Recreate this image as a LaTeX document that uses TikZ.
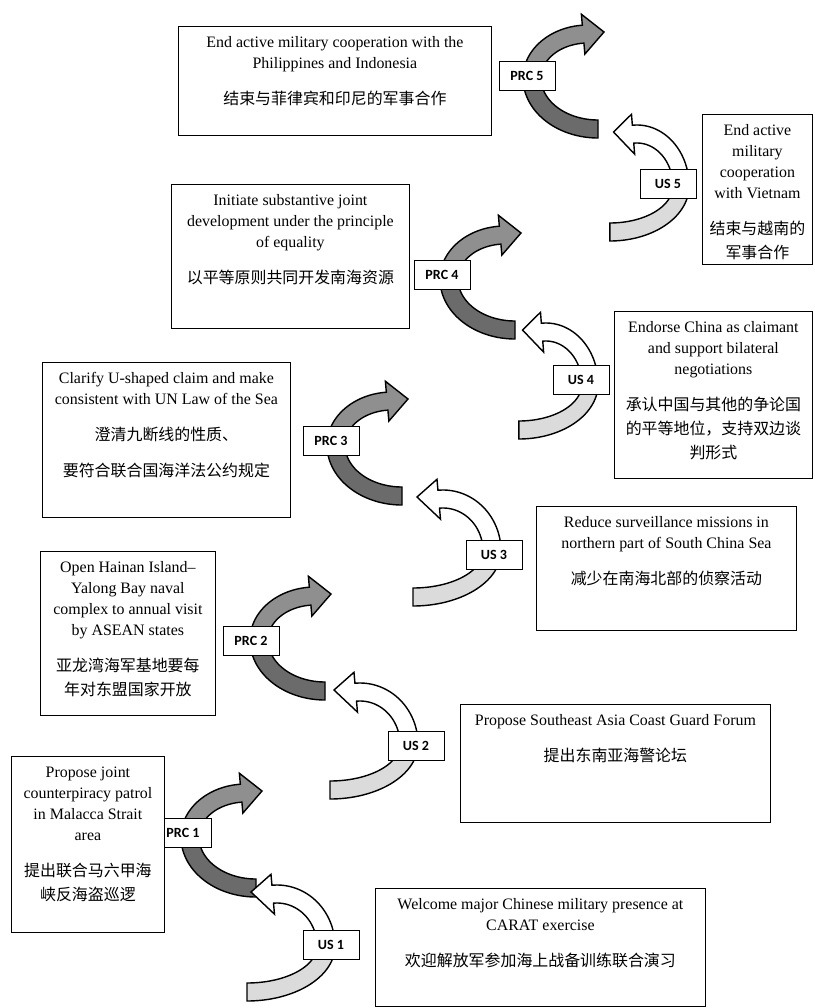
\documentclass[tikz,border=0pt]{standalone}
\usepackage{fontspec}
\setmainfont{Liberation Serif}
\newfontfamily\cjk{Noto Sans CJK SC}
\newfontfamily\tagfont{Carlito}
\usepackage{xcolor}
\usepackage{tikz}

\definecolor{prcdark}{gray}{0.42}
\definecolor{prcmid}{gray}{0.56}
\definecolor{uslight}{gray}{0.86}

\newlength{\unitpx}
\setlength{\unitpx}{0.03cm}
\def\bw{9}
\def\hw{20}

% text of a box: width, height (px), lines
\newcommand{\boxtext}[3]{\parbox[t][#2\unitpx][t]{#1\unitpx}{\centering\fontsize{13.6pt}{17.9pt}\selectfont\rule{0pt}{18pt}#3}}

% band between two angles: fill, centre x, rx, ry, from, to
\newcommand{\bandpart}[6]{%
  \filldraw[band, fill=#1]
    plot[variable=\t, domain=#5:#6, samples=40] ({#2+(#3+\bw)*cos(\t)}, {(#4+\bw)*sin(\t)})
    -- plot[variable=\t, domain=#6:#5, samples=40] ({#2+(#3-\bw)*cos(\t)}, {(#4-\bw)*sin(\t)})
    -- cycle;}
% band ending in a head: fill, centre x, rx, ry, from, to, tip x, tip y
\newcommand{\headpart}[8]{%
  \filldraw[band, fill=#1]
    plot[variable=\t, domain=#5:#6, samples=40] ({#2+(#3+\bw)*cos(\t)}, {(#4+\bw)*sin(\t)})
    -- ({#2+(#3+\hw)*cos(#6)}, {(#4+\hw)*sin(#6)})
    -- (#7,#8)
    -- ({#2+(#3-\hw)*cos(#6)}, {(#4-\hw)*sin(#6)})
    -- plot[variable=\t, domain=#6:#5, samples=40] ({#2+(#3-\bw)*cos(\t)}, {(#4-\bw)*sin(\t)})
    -- cycle;}
% PRC bend: opens to the right
\newcommand{\prcbend}[1]{%
  \begin{scope}[shift={(#1)}]
    \bandpart{prcdark}{66}{66}{51}{180}{90}
    \headpart{prcmid}{56}{56}{44}{180}{265}{72}{-46}
  \end{scope}}
% US bend: opens to the left
\newcommand{\usbend}[2]{%
  \begin{scope}[shift={(#1)}, xscale=#2]
    \bandpart{uslight}{-79}{79}{46}{0}{90}
    \headpart{white}{-49}{49}{52}{0}{-95}{-75}{-54}
  \end{scope}}

\begin{document}
\begin{tikzpicture}[x=0.03cm, y=-0.03cm,
    textbox/.style={draw, fill=white, line width=0.7pt, inner sep=0pt, anchor=north west},
    tag/.style={draw, fill=white, line width=0.8pt, inner sep=0pt, minimum width=1.68cm, minimum height=0.87cm, font=\tagfont\bfseries\fontsize{12pt}{14pt}\selectfont},
    band/.style={draw=black, line width=1.2pt, line join=miter}]
  \useasboundingbox (0,0) rectangle (815,1008);

  % middle of each bend
  \coordinate (prc1bend) at (190,837);
  \coordinate (us1bend) at (326,946);
  \coordinate (prc2bend) at (259,640);
  \coordinate (us2bend) at (409,744);
  \coordinate (prc3bend) at (336,445);
  \coordinate (us3bend) at (492,551);
  \coordinate (prc4bend) at (449,279);
  \coordinate (us4bend) at (590,384);
  \coordinate (prc5bend) at (532,78);
  \coordinate (us5bend) at (681,186);

  % the bends
  \prcbend{prc1bend}
  \usbend{us1bend}{1}
  \prcbend{prc2bend}
  \usbend{us2bend}{1}
  \prcbend{prc3bend}
  \usbend{us3bend}{1}
  \prcbend{prc4bend}
  \usbend{us4bend}{0.9}
  \prcbend{prc5bend}
  \usbend{us5bend}{0.9}

  % move labels
  \node[tag] (prc1) at (183,833) {PRC 1};
  \node[tag] (us1) at (331,945) {US 1};
  \node[tag] (prc2) at (251,641) {PRC 2};
  \node[tag] (us2) at (416,746) {US 2};
  \node[tag] (prc3) at (331,441) {PRC 3};
  \node[tag] (us3) at (494,555) {US 3};
  \node[tag] (prc4) at (442,275) {PRC 4};
  \node[tag] (us4) at (581,380) {US 4};
  \node[tag] (prc5) at (527,76) {PRC 5};
  \node[tag] (us5) at (668,184) {US 5};

  % PRC moves
  \node[textbox] (prc5box) at (178,26) {\boxtext{313}{109}{End active military cooperation with the\\Philippines and Indonesia\\[12.8pt]{\cjk 结束与菲律宾和印尼的军事合作}}};
  \node[textbox] (prc4box) at (171,184) {\boxtext{238}{144}{Initiate substantive joint\\development under the principle\\of equality\\[12.8pt]{\cjk 以平等原则共同开发南海资源}}};
  \node[textbox] (prc3box) at (42,362) {\boxtext{248}{155}{Clarify U-shaped claim and make\\consistent with UN Law of the Sea\\[12.8pt]{\cjk 澄清九断线的性质、}\\[12.8pt]{\cjk 要符合联合国海洋法公约规定}}};
  \node[textbox] (prc2box) at (40,551) {\boxtext{175}{164}{Open Hainan Island–\\Yalong Bay naval\\complex to annual visit\\by ASEAN states\\[12.8pt]{\cjk 亚龙湾海军基地要每}\\[2.6pt]{\cjk 年对东盟国家开放}}};
  \node[textbox] (prc1box) at (11,756) {\boxtext{153}{176}{Propose joint\\counterpiracy patrol\\in Malacca Strait\\area\\[12.8pt]{\cjk 提出联合马六甲海}\\[2.6pt]{\cjk 峡反海盗巡逻}}};

  % US moves
  \node[textbox] (us5box) at (702,114) {\boxtext{110}{150}{End active\\military\\cooperation\\with Vietnam\\[12.8pt]{\cjk 结束与越南的}\\[2.6pt]{\cjk 军事合作}}};
  \node[textbox] (us4box) at (614,311) {\boxtext{198}{167}{Endorse China as claimant\\and support bilateral\\negotiations\\[12.8pt]{\cjk 承认中国与其他的争论国}\\[2.6pt]{\cjk 的平等地位，支持双边谈}\\[2.6pt]{\cjk 判形式}}};
  \node[textbox] (us3box) at (536,506) {\boxtext{260}{124}{Reduce surveillance missions in\\northern part of South China Sea\\[12.8pt]{\cjk 减少在南海北部的侦察活动}}};
  \node[textbox] (us2box) at (460,704) {\boxtext{310}{118}{Propose Southeast Asia Coast Guard Forum\\[12.8pt]{\cjk 提出东南亚海警论坛}}};
  \node[textbox] (us1box) at (375,888) {\boxtext{330}{118}{Welcome major Chinese military presence at\\CARAT exercise\\[12.8pt]{\cjk 欢迎解放军参加海上战备训练联合演习}}};
\end{tikzpicture}
\end{document}
